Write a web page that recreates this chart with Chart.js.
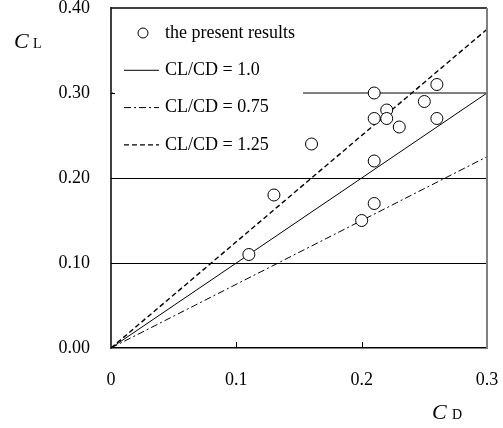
<!DOCTYPE html>
<html>
<head>
<meta charset="utf-8">
<script src="https://cdn.jsdelivr.net/npm/chart.js@4.4.1/dist/chart.umd.min.js"></script>
<style>
  html, body { margin: 0; padding: 0; background: #fff; }
  #wrap { width: 503px; height: 428px; }
</style>
</head>
<body>
<div id="wrap"><canvas id="chart" width="503" height="428"></canvas></div>
<script>
// ---- data ----
const cdValues = [0.11, 0.13, 0.16, 0.20, 0.21, 0.21, 0.21, 0.21, 0.22, 0.22, 0.23, 0.25, 0.26, 0.26];
const clValues = [0.11, 0.18, 0.24, 0.15, 0.17, 0.22, 0.27, 0.30, 0.28, 0.27, 0.26, 0.29, 0.31, 0.27];
const ratioLabels = ['CL/CD = 1.0', 'CL/CD = 0.75', 'CL/CD = 1.25'];
const ratioValues = [1.0, 0.75, 1.25];
const cdRange = [0, 0.3];
const clRange = [0, 0.4];
const xTickLabels = ['0', '0.1', '0.2', '0.3'];
const yTickLabels = ['0.00', '0.10', '0.20', '0.30', '0.40'];

const FONT = '"Liberation Serif", "Times New Roman", serif';
const ratioDash = [[], [7, 3, 2, 3], [5, 3]];
const ratioWidth = [1, 1, 1.4];

// ---- plugins ----
const whiteBg = {
    id: 'whiteBg',
    beforeDraw(chart) {
        const c = chart.ctx;
        c.save();
        c.fillStyle = '#fff';
        c.fillRect(0, 0, chart.width, chart.height);
        c.restore();
    }
};

const frameAndLegend = {
    id: 'frameAndLegend',
    afterDatasetsDraw(chart) {
        const c = chart.ctx;
        const a = chart.chartArea;
        const xs = chart.scales.x, ys = chart.scales.y;
        c.save();

        // legend panel (hides part of the 0.30 grid line)
        c.fillStyle = '#fff';
        c.fillRect(a.left + 2, a.top + 1, 190, 150);

        c.font = '18px ' + FONT;
        c.textBaseline = 'middle';
        c.textAlign = 'left';
        const x0 = a.left + 13, x1 = a.left + 48, tx = a.left + 54;
        let y = a.top + 25;
        c.strokeStyle = '#000';
        c.lineWidth = 1;
        c.beginPath();
        c.arc(a.left + 32, y, 5, 0, Math.PI * 2);
        c.stroke();
        c.fillStyle = '#000';
        c.fillText('the present results', tx, y);
        ratioLabels.forEach((lab, i) => {
            y += 37.3;
            c.beginPath();
            c.setLineDash(ratioDash[i]);
            c.lineWidth = ratioWidth[i];
            c.moveTo(x0, y);
            c.lineTo(x1, y);
            c.stroke();
            c.setLineDash([]);
            c.fillText(lab, tx, y);
        });

        // inner tick marks
        c.strokeStyle = '#000';
        c.lineWidth = 1;
        xs.ticks.forEach(t => {
            if (t.value <= cdRange[0] || t.value >= cdRange[1]) return;
            const px = Math.round(xs.getPixelForValue(t.value)) + 0.5;
            c.beginPath();
            c.moveTo(px, a.bottom);
            c.lineTo(px, a.bottom - 6);
            c.stroke();
        });
        ys.ticks.forEach(t => {
            if (t.value <= clRange[0] || t.value >= clRange[1]) return;
            const py = Math.round(ys.getPixelForValue(t.value)) + 0.5;
            c.beginPath();
            c.moveTo(a.left, py);
            c.lineTo(a.left + 4, py);
            c.stroke();
        });

        // top and right frame
        c.lineWidth = 1.5;
        c.strokeStyle = '#000';
        c.beginPath();
        c.moveTo(a.left, a.top);
        c.lineTo(a.right, a.top);
        c.stroke();
        c.strokeStyle = '#808080';
        c.lineWidth = 2;
        c.beginPath();
        c.moveTo(a.right, a.top);
        c.lineTo(a.right, a.bottom);
        c.stroke();

        // axis titles
        c.fillStyle = '#000';
        c.textBaseline = 'alphabetic';
        c.font = 'italic 22px ' + FONT;
        c.fillText('C', 14, 48);
        c.font = '14px ' + FONT;
        c.fillText('L', 33, 48);
        c.font = 'italic 22px ' + FONT;
        c.fillText('C', 432, 419);
        c.font = '14px ' + FONT;
        c.fillText('D', 452, 419);

        c.restore();
    }
};

// ---- datasets ----
const datasets = [{
    label: 'the present results',
    data: cdValues.map((x, i) => ({ x: x, y: clValues[i] })),
    pointStyle: 'circle',
    pointRadius: 6,
    pointBorderWidth: 1,
    pointBorderColor: '#000',
    pointBackgroundColor: '#fff',
    showLine: false,
    order: 0
}];
ratioValues.forEach((r, i) => {
    datasets.push({
        label: ratioLabels[i],
        data: cdRange.map(x => ({ x: x, y: r * x })),
        showLine: true,
        borderColor: '#000',
        borderWidth: ratioWidth[i],
        borderDash: ratioDash[i],
        pointRadius: 0,
        fill: false,
        order: 1 + i
    });
});

// drop the automatic label overflow padding so the plot box sits where the original does
function noPad(s) {
    s.paddingTop = 0;
    s.paddingBottom = 0;
    s.paddingLeft = 0;
    s.paddingRight = 0;
}

new Chart(document.getElementById('chart'), {
    type: 'scatter',
    data: { datasets: datasets },
    options: {
        responsive: false,
        animation: false,
        devicePixelRatio: 1,
        layout: { padding: { top: 8, right: 16, left: 0, bottom: 0 } },
        plugins: { legend: { display: false }, tooltip: { enabled: false } },
        scales: {
            x: {
                type: 'linear',
                min: cdRange[0], max: cdRange[1],
                afterFit: s => { s.height = 80; noPad(s); },
                afterBuildTicks: s => { s.ticks = xTickLabels.map((l, i) => ({ value: cdRange[0] + i * 0.1 })); },
                grid: { display: true, drawOnChartArea: false, drawTicks: false },
                border: { display: true, color: '#000', width: 1.5 },
                ticks: {
                    padding: 21,
                    color: '#000',
                    font: { family: FONT, size: 18 },
                    maxRotation: 0,
                    callback: (v, i) => xTickLabels[i]
                }
            },
            y: {
                type: 'linear',
                min: clRange[0], max: clRange[1],
                afterFit: s => { s.width = 111; noPad(s); },
                afterBuildTicks: s => { s.ticks = yTickLabels.map((l, i) => ({ value: clRange[0] + i * 0.1 })); },
                grid: {
                    drawTicks: false,
                    color: ctx => {
                        const i = ctx.index;
                        if (i === 1 || i === 2) return '#000';
                        if (i === 3) return '#808080';
                        return 'rgba(0,0,0,0)';
                    },
                    lineWidth: ctx => (ctx.index === 3 ? 2 : 1)
                },
                border: { display: true, color: '#404040', width: 2 },
                ticks: {
                    padding: 21,
                    color: '#000',
                    font: { family: FONT, size: 18 },
                    callback: (v, i) => yTickLabels[i]
                }
            }
        }
    },
    plugins: [whiteBg, frameAndLegend]
});
</script>
</body>
</html>
